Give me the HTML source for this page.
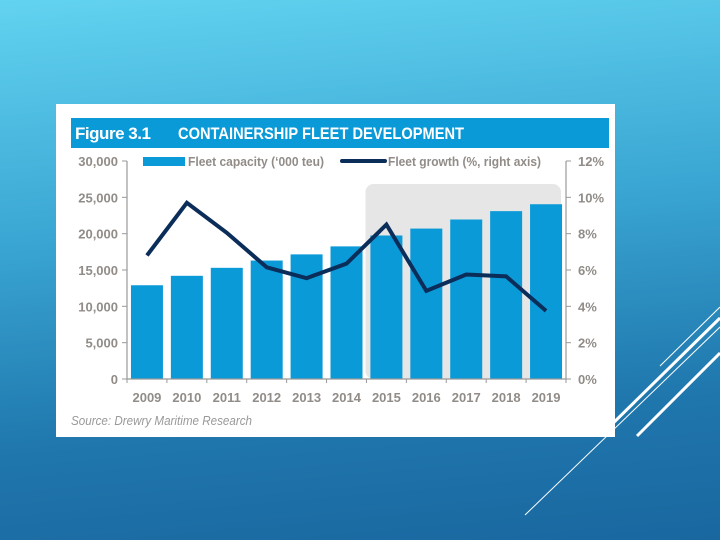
<!DOCTYPE html>
<html><head><meta charset="utf-8"><style>
body{margin:0;width:720px;height:540px;overflow:hidden;background:linear-gradient(175deg,#62d3f0 0%,#3aa6d3 40%,#1f77ad 75%,#1a67a0 100%);font-family:"Liberation Sans",sans-serif;position:relative}
#deco{position:absolute;left:0;top:0}
#panel{position:absolute;left:56px;top:104px;width:559px;height:333px;background:#fff}
#chart{position:absolute;left:0;top:0}
</style></head><body>
<svg id="deco" width="720" height="540">
<line x1="720" y1="307" x2="660" y2="366" stroke="#fff" stroke-width="1"/>
<line x1="720" y1="318" x2="600" y2="436" stroke="#fff" stroke-width="3"/>
<line x1="720" y1="327" x2="525" y2="515" stroke="#fff" stroke-width="1"/>
<line x1="720" y1="353" x2="637" y2="436" stroke="#fff" stroke-width="3"/>
</svg>
<div id="panel">
<svg id="chart" width="559" height="333"></svg>
</div>
<script>
const years=["2009","2010","2011","2012","2013","2014","2015","2016","2017","2018","2019"];
const capacity=[12900,14200,15300,16300,17150,18250,19750,20700,21950,23100,24050];
const growth=[6.8,9.7,8.05,6.15,5.55,6.35,8.5,4.85,5.75,5.65,3.75];
const leftTicks=["0","5,000","10,000","15,000","20,000","25,000","30,000"];
const rightTicks=["0%","2%","4%","6%","8%","10%","12%"];
const ns="http://www.w3.org/2000/svg";
const svg=document.getElementById('chart');
const ox=56,oy=104;
const X0=127-ox,X1=566-ox,Y0=379-oy,Y1=161-oy;
const bw=(X1-X0)/years.length;
const yL=v=>Y0-(v/30000)*(Y0-Y1);
const yR=v=>Y0-(v/12)*(Y0-Y1);
const xC=i=>X0+bw*(i+0.5);
function mk(t,a,p){const e=document.createElementNS(ns,t);for(const k in a)e.setAttribute(k,a[k]);(p||svg).appendChild(e);return e;}
function tx(s,a,p){const e=mk('text',a,p);e.textContent=s;return e;}
const tb=mk('rect',{x:15,y:14,width:538,height:30,fill:'#0a9ad8'});


const t1=tx('Figure 3.1',{x:19,y:35,fill:'#fff','font-size':17,'font-weight':'bold',textLength:76});


const t2=tx('CONTAINERSHIP FLEET DEVELOPMENT',{x:122,y:35,fill:'#fff','font-size':17,'font-weight':'bold',textLength:286,lengthAdjust:'spacingAndGlyphs'});


const sh=mk('rect',{x:xC(6)-bw/2-1,y:184-oy,width:bw*4.9,height:Y0-(184-oy),rx:8,fill:'#e6e6e6'});


capacity.forEach((v,i)=>{const r=mk('rect',{x:xC(i)-16,y:yL(v),width:32,height:Y0-yL(v),fill:'#0a9ad8'});

});
mk('line',{x1:X0,y1:Y1,x2:X0,y2:Y0,stroke:'#999','stroke-width':1.2});
mk('line',{x1:X1,y1:Y1,x2:X1,y2:Y0,stroke:'#999','stroke-width':1.2});
mk('line',{x1:X0,y1:Y0,x2:X1,y2:Y0,stroke:'#999','stroke-width':1.2});
leftTicks.forEach((s,i)=>{const y=Y0-i*(Y0-Y1)/6;mk('line',{x1:X0-5,y1:y,x2:X0,y2:y,stroke:'#999'});
const t=tx(s,{x:X0-9,y:y+5,'text-anchor':'end',fill:'#918c88','font-size':13,'font-weight':'bold'});

});
rightTicks.forEach((s,i)=>{const y=Y0-i*(Y0-Y1)/6;mk('line',{x1:X1,y1:y,x2:X1+5,y2:y,stroke:'#999'});
const t=tx(s,{x:X1+12,y:y+5,fill:'#918c88','font-size':13,'font-weight':'bold'});

});
years.forEach((s,i)=>{mk('line',{x1:X0+bw*i,y1:Y0,x2:X0+bw*i,y2:Y0+4,stroke:'#999'});
const t=tx(s,{x:xC(i),y:Y0+23,'text-anchor':'middle',fill:'#918c88','font-size':13,'font-weight':'bold'});

});
mk('line',{x1:X1,y1:Y0,x2:X1,y2:Y0+4,stroke:'#999'});
const pl=mk('polyline',{points:growth.map((v,i)=>xC(i)+','+yR(v)).join(' '),fill:'none',stroke:'#0b2d5a','stroke-width':4,'stroke-linejoin':'miter'});


const lg=mk('g',{});


mk('rect',{x:143-ox,y:157-oy,width:42,height:9,fill:'#0a9ad8'},lg);
const l1=tx('Fleet capacity (\u2018000 teu)',{x:188-ox,y:166-oy,fill:'#918c88','font-size':13,'font-weight':'bold',textLength:136,lengthAdjust:'spacingAndGlyphs'},lg);


mk('line',{x1:342-ox,y1:161-oy,x2:385-ox,y2:161-oy,stroke:'#0b2d5a','stroke-width':4,'stroke-linecap':'round'},lg);
const l2=tx('Fleet growth (%, right axis)',{x:388-ox,y:166-oy,fill:'#918c88','font-size':13,'font-weight':'bold',textLength:153,lengthAdjust:'spacingAndGlyphs'},lg);


const src=tx('Source: Drewry Maritime Research',{x:15,y:321,fill:'#999','font-size':13,'font-style':'italic',textLength:181,lengthAdjust:'spacingAndGlyphs'});


</script>
</body></html>
